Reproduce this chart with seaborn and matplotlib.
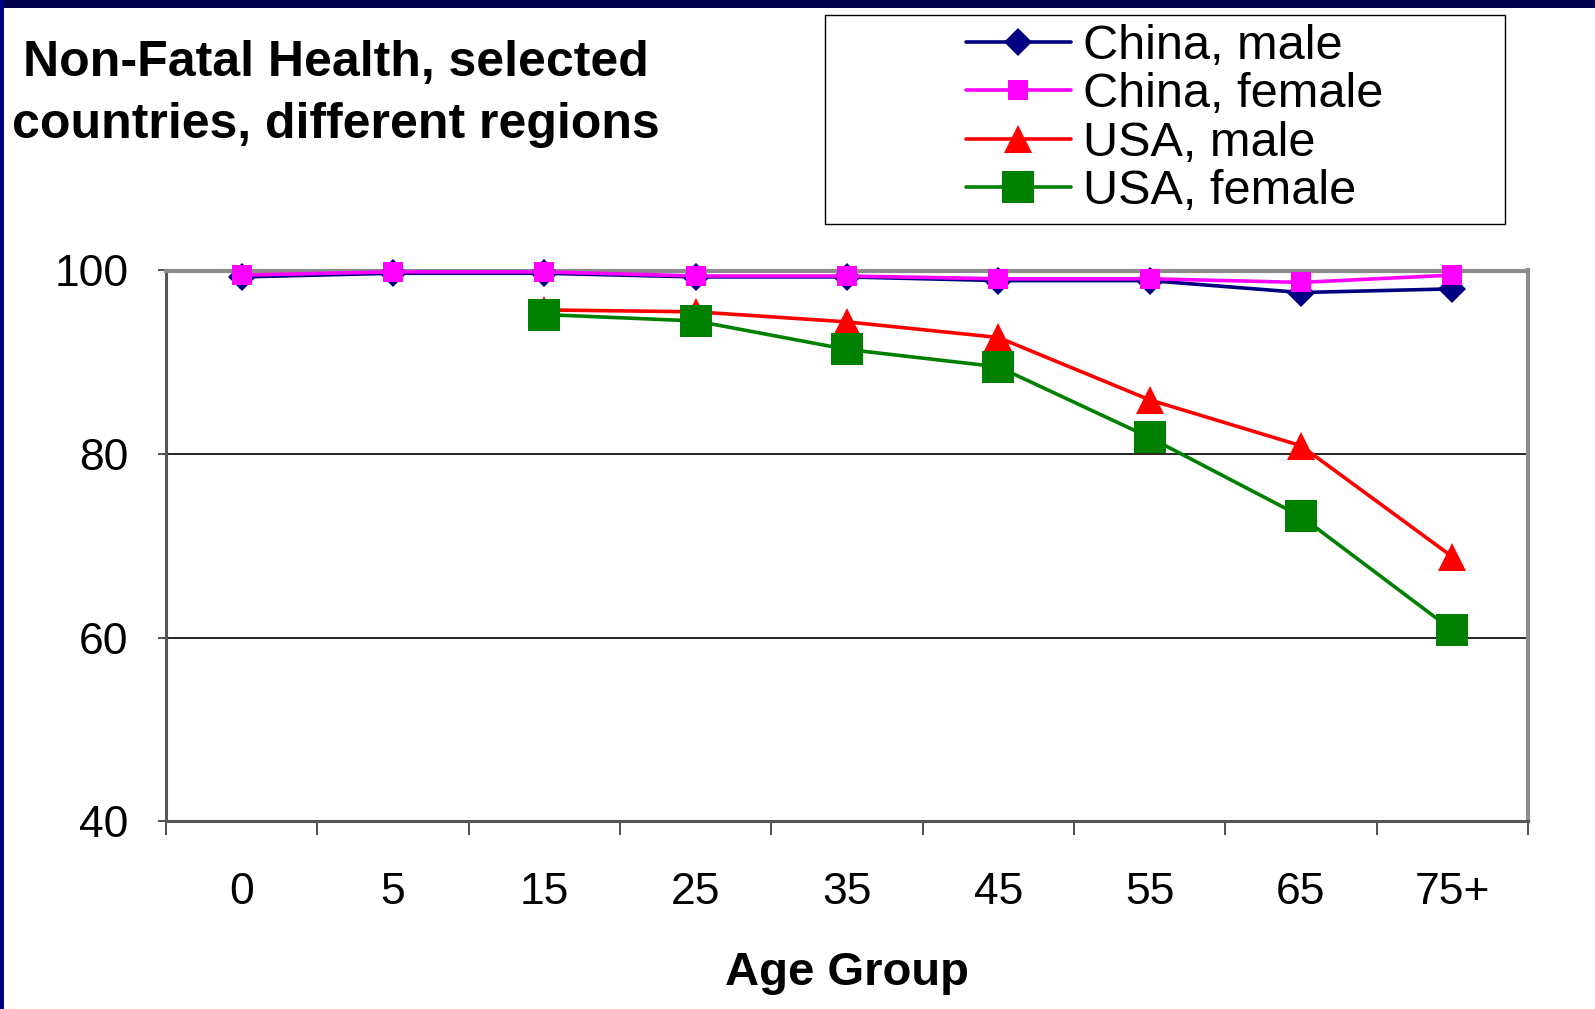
import numpy as np
import pandas as pd
import matplotlib
matplotlib.use("Agg")
import matplotlib.pyplot as plt
from matplotlib.patches import Rectangle
from matplotlib.lines import Line2D
import seaborn as sns

# Age groups and share of life lived in full health (%)
age_groups = ["0", "5", "15", "25", "35", "45", "55", "65", "75+"]
china_male = [99.3, 99.7, 99.7, 99.3, 99.3, 98.9, 98.9, 97.6, 98.0]
china_female = [99.5, 99.85, 99.85, 99.4, 99.4, 99.1, 99.1, 98.7, 99.5]
usa_male = [np.nan, np.nan, 95.7, 95.5, 94.4, 92.7, 85.9, 80.9, 68.8]
usa_female = [np.nan, np.nan, 95.2, 94.5, 91.4, 89.5, 81.8, 73.2, 60.8]

series_names = ["China, male", "China, female", "USA, male", "USA, female"]
series_values = [china_male, china_female, usa_male, usa_female]
series_colors = ["#000080", "#FF00FF", "#FF0000", "#008000"]
series_markers = ["D", "s", "^", "s"]
series_sizes = [14, 14.5, 20, 23]

sns.set_style("white")
plt.rcParams["font.family"] = ["Liberation Sans", "DejaVu Sans"]
plt.rcParams["text.color"] = "black"
plt.rcParams["xtick.color"] = "black"
plt.rcParams["ytick.color"] = "black"
plt.rcParams["axes.labelcolor"] = "black"

W, H = 1595, 1009
fig = plt.figure(figsize=(W / 100, H / 100), dpi=100)
fig.patch.set_facecolor("white")

# slide frame: dark band on top, blue strip on the left
fig.add_artist(Rectangle((0, 1 - 8 / H), 1, 8 / H, transform=fig.transFigure,
                         facecolor="#00004D", edgecolor="none", zorder=0))
fig.add_artist(Rectangle((0, 0), 4 / W, 1, transform=fig.transFigure,
                         facecolor="#000080", edgecolor="none", zorder=0))

left, right, top, bottom = 166 / W, 1528 / W, 1 - 270.5 / H, 1 - 821 / H
ax = fig.add_axes([left, bottom, right - left, top - bottom])

x_pos = np.arange(len(age_groups))
frames = []
for name, vals in zip(series_names, series_values):
    frames.append(pd.DataFrame({"pos": x_pos, "value": vals, "series": name}))
df = pd.concat(frames, ignore_index=True).dropna()

handles = []
for name, color, marker, ms in zip(series_names, series_colors, series_markers, series_sizes):
    sub = df[df["series"] == name]
    sns.lineplot(data=sub, x="pos", y="value", ax=ax, color=color, marker=marker,
                 markersize=ms, markeredgecolor=color, markeredgewidth=0,
                 linewidth=2.6, sort=False, legend=False, zorder=4, clip_on=False)
    handles.append(Line2D([], [], color=color, marker=marker, markersize=ms,
                          markeredgewidth=0, linewidth=2.6))

ax.set_xlim(-0.5, len(age_groups) - 0.5)
ax.set_ylim(40, 100)
ax.set_yticks([40, 60, 80, 100])
ax.set_yticklabels(["40", "60", "80", "100"])
ax.set_xticks(x_pos)
ax.set_xticklabels(age_groups)
ax.set_xticks(np.arange(len(age_groups) + 1) - 0.5, minor=True)

ax.tick_params(axis="y", which="major", left=True, length=6, width=1.2,
               color="#333333", labelsize=32, pad=21)
ax.tick_params(axis="x", which="major", bottom=True, length=0, labelsize=32, pad=37)
ax.tick_params(axis="x", which="minor", bottom=True, length=10, width=1.2, color="#333333")

ax.yaxis.grid(True, color="black", linewidth=1.2)
ax.xaxis.grid(False)
ax.set_axisbelow(True)

for side in ["top", "right"]:
    ax.spines[side].set_color("#8C8C8C")
    ax.spines[side].set_linewidth(3)
for side in ["left", "bottom"]:
    ax.spines[side].set_color("#555555")
    ax.spines[side].set_linewidth(2.2)

ax.set_xlabel("Age Group", fontsize=34, fontweight="bold", labelpad=27)
ax.set_ylabel("")

fig.text(336 / W, 1 - 94 / H, "Non-Fatal Health, selected\ncountries, different regions",
         ha="center", va="center", multialignment="center", fontsize=36,
         fontweight="bold", linespacing=1.45)

# legend box
fig.add_artist(Rectangle((825 / W, 1 - 224 / H), 680 / W, 209 / H,
                         transform=fig.transFigure, facecolor="white",
                         edgecolor="black", linewidth=1, zorder=1))
leg = fig.legend(handles, series_names, loc="upper left",
                 bbox_to_anchor=(966 / W, 1 - 24 / H), frameon=False,
                 fontsize=35, handlelength=2.15, handletextpad=0.25,
                 labelspacing=0.07, borderpad=0, borderaxespad=0)
leg.set_zorder(2)

fig.savefig("out.png", dpi=100)
